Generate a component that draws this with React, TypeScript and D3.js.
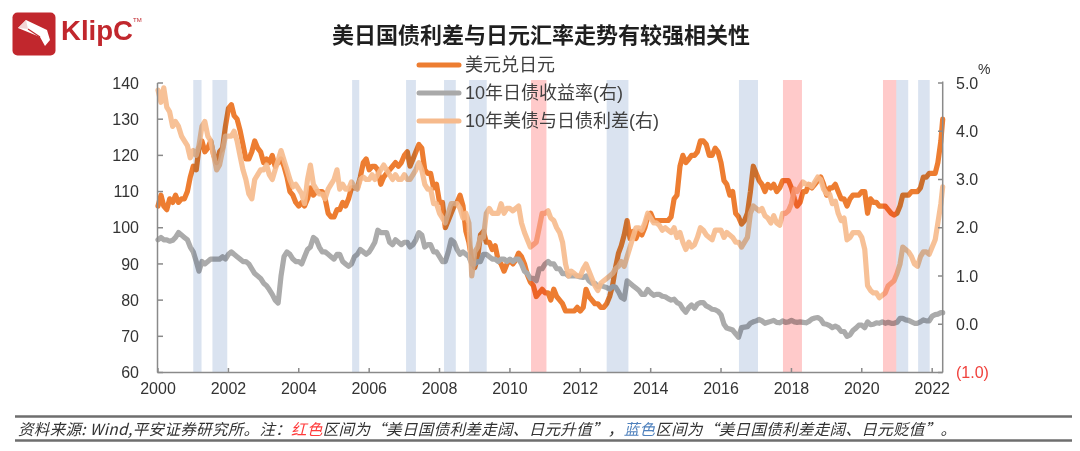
import React from 'react';
import * as d3 from 'd3';

// ---- data (monthly, Jan 2000 .. Apr 2022, plus last obs on 2022-04-20) ----
const START = new Date(2000, 0, 1);
const END = new Date(2022, 3, 20);

// 美元兑日元 (left axis)
const usdJpy: number[] = [
  106, 109, 106, 105, 108, 107, 109, 107, 108, 108, 110, 114,
  117, 116, 122, 124, 121, 122, 124, 120, 118, 121, 122, 128,
  133, 134, 131, 130, 127, 123, 119, 119, 121, 124, 122, 121,
  118, 119, 118, 120, 117, 118, 119, 117, 114, 110, 109, 107,
  106, 107, 106, 108, 111, 109, 110, 110, 110, 108, 104, 103,
  103, 105, 105, 107, 106, 108, 111, 111, 111, 114, 118, 119,
  116, 117, 117, 116, 112, 114, 115, 116, 117, 118, 117, 118,
  120, 121, 117, 119, 121, 123, 122, 116, 115, 115, 111, 112,
  107, 107, 100, 102, 104, 106, 107, 109, 106, 99, 96, 91,
  89, 92, 98, 99, 96, 96, 94, 95, 91, 90, 88, 90,
  91, 90, 91, 93, 92, 90, 87, 85, 84, 81, 82, 83,
  82, 82, 80, 83, 81, 80, 79, 77, 77, 77, 77, 78,
  77, 78, 83, 81, 80, 79, 79, 78, 78, 79, 81, 84,
  89, 93, 95, 98, 102, 97, 99, 97, 99, 98, 100, 103,
  104, 102, 102, 102, 102, 102, 102, 103, 108, 109, 117, 120,
  118, 119, 120, 120, 121, 124, 124, 123, 120, 120, 122, 121,
  118, 113, 112, 109, 110, 104, 103, 101, 102, 104, 110, 117,
  115, 113, 112, 110, 112, 111, 112, 110, 111, 113, 113, 113,
  111, 108, 106, 107, 110, 110, 112, 111, 112, 113, 114, 112,
  109, 111, 111, 112, 110, 108, 108, 106, 108, 109, 109, 109,
  110, 110, 104, 108, 107, 107, 106, 106, 106, 105, 104, 103.5,
  104, 106, 109, 109, 109, 110, 110, 110, 111, 114, 114, 115,
  115, 115, 118, 124, 130,
];

// 10年日债收益率 (right axis, %)
const jgb10y: number[] = [
  1.75, 1.8, 1.75, 1.75, 1.72, 1.74, 1.8, 1.9, 1.85, 1.8, 1.75, 1.6,
  1.5, 1.3, 1.1, 1.3, 1.25, 1.3, 1.35, 1.35, 1.35, 1.35, 1.4, 1.35,
  1.45, 1.5, 1.45, 1.4, 1.35, 1.3, 1.3, 1.25, 1.15, 1.05, 1.0, 0.95,
  0.85, 0.8, 0.72, 0.62, 0.5, 0.44, 1.0, 1.4, 1.5, 1.45, 1.35, 1.3,
  1.3, 1.25, 1.4, 1.55, 1.6, 1.8, 1.75, 1.6, 1.5, 1.5, 1.45, 1.4,
  1.35, 1.45, 1.45, 1.3, 1.25, 1.2, 1.25, 1.4, 1.45, 1.55, 1.5, 1.45,
  1.5, 1.6, 1.7, 1.95, 1.9, 1.9, 1.9, 1.7, 1.65, 1.75, 1.7, 1.65,
  1.7, 1.7, 1.6, 1.65, 1.75, 1.9, 1.85, 1.6, 1.65, 1.65, 1.5, 1.5,
  1.4, 1.3, 1.3, 1.5, 1.75, 1.7, 1.55, 1.45, 1.5, 1.45, 1.4, 1.25,
  1.25, 1.3, 1.3, 1.45, 1.45, 1.4, 1.35, 1.35, 1.3, 1.35, 1.35, 1.3,
  1.35, 1.3, 1.35, 1.35, 1.25, 1.1, 1.05, 0.95, 0.95, 0.9, 1.15, 1.15,
  1.25, 1.3, 1.25, 1.25, 1.15, 1.15, 1.05, 1.05, 1.0, 1.0, 1.0, 1.0,
  0.98, 0.97, 1.0, 0.9, 0.85, 0.85, 0.78, 0.8, 0.78, 0.76, 0.73, 0.78,
  0.77, 0.67, 0.56, 0.52, 0.9, 0.85, 0.8, 0.75, 0.7, 0.62, 0.62, 0.72,
  0.65, 0.6, 0.62, 0.62, 0.58, 0.57, 0.53, 0.5, 0.52, 0.45, 0.42, 0.32,
  0.25, 0.35, 0.4, 0.33, 0.42, 0.45, 0.45, 0.38, 0.35, 0.31, 0.3, 0.27,
  0.2, 0.0, -0.08, -0.1, -0.12, -0.2, -0.27, -0.07, -0.06, -0.05, 0.02, 0.05,
  0.07, 0.1, 0.07, 0.02, 0.04, 0.06, 0.08, 0.04, 0.03, 0.07, 0.04, 0.05,
  0.08, 0.05, 0.04, 0.05, 0.04, 0.03, 0.06, 0.11, 0.13, 0.14, 0.1, 0.01,
  0.0, -0.03, -0.07, -0.04, -0.07, -0.15, -0.15, -0.25, -0.22, -0.13, -0.08, -0.02,
  -0.02, -0.07, 0.05, -0.01, 0.0, 0.03, 0.02, 0.05, 0.02, 0.04, 0.02, 0.02,
  0.04, 0.12, 0.12, 0.09, 0.08, 0.05, 0.02, 0.02, 0.05, 0.09, 0.07, 0.07,
  0.17, 0.2, 0.21, 0.24, 0.24,
];

// 10年美债与日债利差 (right axis, %)
const spread: number[] = [
  4.85, 4.6, 4.9, 4.5, 4.4, 4.1, 4.2, 4.1, 3.9, 3.8, 3.7, 3.45,
  3.6, 3.5, 3.7, 4.1, 4.2, 3.9, 3.8, 3.5, 3.2, 3.3, 3.6, 3.9,
  3.9, 3.9, 4.0, 3.8, 3.5, 3.2, 3.0, 2.7, 2.6, 3.0, 3.1, 3.2,
  3.2, 3.3, 3.1, 3.0, 3.2, 3.4, 3.6, 3.4, 3.2, 3.0, 2.85, 2.9,
  2.8, 2.7, 2.5, 3.0, 3.3, 2.9, 2.8, 2.7, 2.7, 2.6, 2.8, 2.9,
  3.0, 3.2, 2.8, 2.9, 2.8, 2.8, 2.95, 2.85, 2.8, 3.0, 3.05, 3.0,
  3.0, 3.1, 3.0, 3.1, 3.2, 3.3, 3.2, 3.1, 3.0, 3.1, 3.0, 3.0,
  3.1, 3.0, 3.0, 3.1, 3.2, 3.35, 3.2, 2.9, 2.8, 2.8, 2.5, 2.5,
  2.3, 2.2, 2.1, 2.3, 2.5, 2.5, 2.5, 2.4, 2.2, 2.3, 2.1, 1.0,
  1.5, 1.6, 1.8, 1.8, 2.3, 2.4, 2.3, 2.3, 2.3, 2.5, 2.3, 2.4,
  2.4, 2.35, 2.4, 2.45, 2.1, 1.9, 1.75, 1.6, 1.65, 1.7, 2.0, 2.3,
  2.3, 2.35, 2.2, 2.15, 2.0, 1.9, 1.7, 1.25, 1.0, 1.1, 1.05, 1.0,
  1.0, 1.15, 1.25, 1.1, 0.95, 0.8, 0.7, 0.85, 0.9, 0.95, 1.0, 1.05,
  1.15, 1.2, 1.3, 1.2, 1.4, 1.6, 1.8, 2.0, 2.0, 1.95, 2.1, 2.3,
  2.2, 2.1, 2.1, 2.05, 1.95, 2.0, 1.95, 1.9, 2.0, 1.8, 1.9, 1.7,
  1.55, 1.7, 1.6, 1.65, 1.8, 2.0, 1.95, 1.85, 1.8, 1.75, 1.95, 1.95,
  1.95, 1.8, 1.9, 1.85, 1.8, 1.7, 1.7, 1.6, 1.7, 1.8, 2.3, 2.45,
  2.4, 2.35, 2.4, 2.25, 2.2, 2.1, 2.25, 2.1, 2.05, 2.3, 2.3, 2.35,
  2.5, 2.8, 2.75, 2.85, 2.95, 2.9, 2.9, 2.85, 2.95, 3.05, 3.0, 2.8,
  2.7, 2.7, 2.5, 2.55, 2.3, 2.15, 2.2, 1.75, 1.8, 1.9, 1.9, 1.9,
  1.8, 1.55, 0.8, 0.7, 0.65, 0.65, 0.55, 0.6, 0.65, 0.8, 0.85, 0.9,
  1.05, 1.25, 1.6, 1.55, 1.5, 1.4, 1.25, 1.2, 1.4, 1.5, 1.5, 1.45,
  1.6, 1.75, 2.1, 2.5, 2.85,
];

// shaded periods
const blueBands: [string, string][] = [
  ['2001-01-01', '2001-03-28'], ['2001-07-19', '2001-12-20'], ['2005-07-08', '2005-09-20'],
  ['2007-01-19', '2007-05-01'], ['2008-02-17', '2008-06-18'], ['2008-11-03', '2009-05-05'],
  ['2012-10-01', '2013-05-15'], ['2016-07-05', '2017-01-19'], ['2020-12-24', '2021-04-27'],
  ['2021-08-08', '2021-12-06'],
];
const redBands: [string, string][] = [
  ['2010-08-08', '2011-01-15'], ['2017-10-05', '2018-04-20'], ['2020-08-08', '2020-12-24'],
];

const leftTicks = [60, 70, 80, 90, 100, 110, 120, 130, 140];
const rightTicks = [-1, 0, 1, 2, 3, 4, 5];
const yearTicks = [2000, 2002, 2004, 2006, 2008, 2010, 2012, 2014, 2016, 2018, 2020, 2022];

const legendItems = [
  { label: '美元兑日元', color: '#ED7D31' },
  { label: '10年日债收益率(右)', color: '#A9A9A9' },
  { label: '10年美债与日债利差(右)', color: '#F6BA8C' },
];

const SANS = '"Liberation Sans", Arial, "Noto Sans CJK SC", sans-serif';
const CJK = '"Noto Sans CJK SC", "Liberation Sans", sans-serif';

export default function App() {
  const dates: Date[] = [...d3.timeMonth.range(START, new Date(2022, 4, 1)), END];
  const x = d3.scaleTime().domain([START, END]).range([158, 942.7]);
  const yL = d3.scaleLinear().domain([60, 140]).range([372.5, 83]);
  const yR = d3.scaleLinear().domain([-1, 5]).range([372.5, 83]);
  const parse = d3.timeParse('%Y-%m-%d');

  const lineL = d3.line<number>().x((_, i) => x(dates[i])).y(d => yL(d));
  const lineR = d3.line<number>().x((_, i) => x(dates[i])).y(d => yR(d));

  const axisColor = '#8A8A8A';
  const textColor = '#333333';

  const band = (b: [string, string], fill: string, k: string) => {
    const x0 = x(parse(b[0]) as Date);
    const x1 = x(parse(b[1]) as Date);
    return (
      <rect key={k} x={x0} y={80} width={x1 - x0} height={372.5 - 80} fill={fill}
        style={{ mixBlendMode: 'multiply' }} />
    );
  };

  return (
    <div style={{ position: 'absolute', left: 0, top: 0 }}>
      <svg width={1080} height={451} style={{ display: 'block', background: '#fff' }}>
        {/* logo */}
        <rect x={12.5} y={12.5} width={43} height={43} rx={5} fill="#C1272D" />
        <path d="M18,28 L26,20 L47,30 L50,40 L45,46 L40,37 Z" fill="#fff" />
        <path d="M26,20 L28,29 L18,28 Z" fill="#F2D4D5" />
        <path d="M28,29 L40,37" stroke="#C1272D" strokeWidth={1.2} />
        <text x={61} y={40} fontFamily={SANS} fontWeight={900} fontSize={27} fill="#C1272D"
          textLength={72} lengthAdjust="spacingAndGlyphs">KlipC</text>
        <text x={133} y={22} fontFamily={SANS} fontSize={6} fill="#C1272D">TM</text>

        {/* title */}
        <text x={541} y={43} textAnchor="middle" fontFamily={CJK} fontWeight={700} fontSize={22}
          fill="#1F1F1F">美日国债利差与日元汇率走势有较强相关性</text>

        {/* series */}
        <g fill="none" strokeLinejoin="round" strokeLinecap="round">
          <path d={lineL(usdJpy) || ''} stroke="#ED7D31" strokeWidth={5.2} />
          <path d={lineR(jgb10y) || ''} stroke="#ABABAB" strokeWidth={5.2} />
          <path d={lineR(spread) || ''} stroke="#F6BA8C" strokeWidth={5.2} opacity={0.9} />
        </g>

        {/* shaded periods */}
        <g>
          {blueBands.map((b, i) => band(b, '#DAE3F0', 'b' + i))}
          {redBands.map((b, i) => band(b, '#FFCACA', 'r' + i))}
        </g>

        {/* left axis */}
        <line x1={157.5} x2={157.5} y1={83} y2={372.5} stroke={axisColor} strokeWidth={1.5} />
        {leftTicks.map(t => (
          <g key={'l' + t}>
            <line x1={157.5} x2={163} y1={yL(t)} y2={yL(t)} stroke={axisColor} strokeWidth={1.5} />
            <text x={139} y={yL(t)} dy="0.35em" textAnchor="end" fontFamily={SANS} fontSize={16}
              fill={textColor}>{t}</text>
          </g>
        ))}

        {/* right axis */}
        <line x1={942.7} x2={942.7} y1={81.5} y2={372.5} stroke={axisColor} strokeWidth={1.5} />
        {rightTicks.map(t => (
          <g key={'r' + t}>
            <line x1={938} x2={942.7} y1={yR(t)} y2={yR(t)} stroke={axisColor} strokeWidth={1.5} />
            <text x={956} y={yR(t)} dy="0.35em" fontFamily={SANS} fontSize={16}
              fill={t < 0 ? '#F0413C' : textColor}>
              {t < 0 ? `(${Math.abs(t).toFixed(1)})` : t.toFixed(1)}
            </text>
          </g>
        ))}
        <text x={978} y={74} fontFamily={SANS} fontSize={14} fill={textColor}>%</text>

        {/* x axis */}
        <line x1={157.5} x2={942.7} y1={372.5} y2={372.5} stroke={axisColor} strokeWidth={1.5} />
        {yearTicks.map(yr => {
          const xx = x(new Date(yr, 0, 1));
          return (
            <g key={'x' + yr}>
              <line x1={xx} x2={xx} y1={372.5} y2={368} stroke={axisColor} strokeWidth={1.5} />
              <text x={xx} y={394} textAnchor="middle" fontFamily={SANS} fontSize={16}
                fill={textColor}>{yr}</text>
            </g>
          );
        })}

        {/* legend */}
        {legendItems.map((it, i) => {
          const ly = 65 + i * 28;
          return (
            <g key={'lg' + i}>
              <line x1={419} x2={459} y1={ly} y2={ly} stroke={it.color} strokeWidth={5}
                strokeLinecap="round" />
              <text x={465} y={ly} dy="0.36em" fontFamily={SANS} fontSize={18}
                fill="#404040">{it.label}</text>
            </g>
          );
        })}

        {/* footer */}
        <line x1={15} x2={1072} y1={416.5} y2={416.5} stroke="#6E6E6E" strokeWidth={2.5} />
        <line x1={15} x2={1072} y1={440.5} y2={440.5} stroke="#6E6E6E" strokeWidth={2.5} />
        <text x={18} y={435} fontFamily={CJK} fontStyle="italic" fontSize={15.5} fill="#333"
          textLength={938} lengthAdjust="spacing">
          资料来源: Wind,平安证券研究所。注：<tspan fill="#FF3B3B">红色</tspan>区间为“美日国债利差走阔、日元升值”，<tspan fill="#4F81BD">蓝色</tspan>区间为“美日国债利差走阔、日元贬值”。
        </text>
      </svg>
    </div>
  );
}
